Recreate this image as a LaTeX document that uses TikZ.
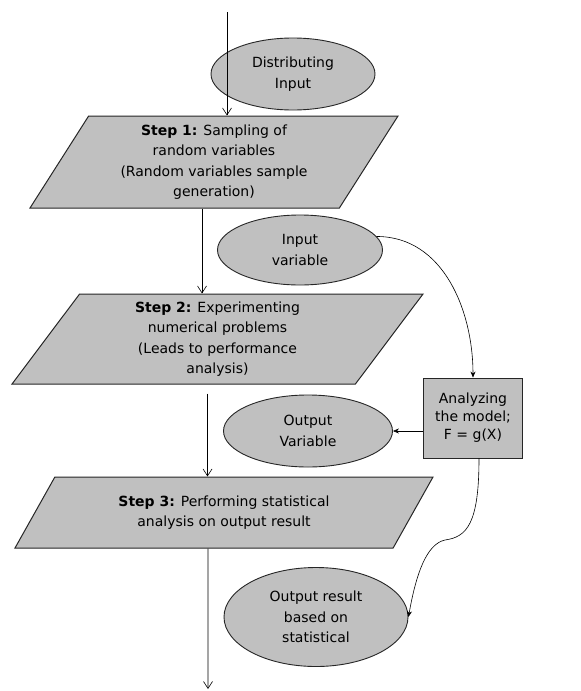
\documentclass[tikz,border=0pt]{standalone}
\usepackage{fontspec}
\setmainfont{DejaVu Sans}
\usetikzlibrary{arrows.meta, shapes.geometric, positioning}
\definecolor{BoxGray}{RGB}{192,192,192}
\tikzset{
	every node/.style={font=\fontsize{14}{20.5}\selectfont, align=center},
	stepbox/.style={trapezium, trapezium stretches body, draw=black!85, fill=BoxGray, line width=1pt, inner sep=0pt},
	databox/.style={ellipse, draw=black!85, fill=BoxGray, line width=0.9pt, inner sep=0pt},
	modelbox/.style={rectangle, draw=black!85, fill=BoxGray, line width=0.9pt, inner sep=0pt, font=\fontsize{14}{18}\selectfont},
	flow/.style={-{Straight Barb[length=7pt,width=9pt]}, line width=0.6pt},
	feed/.style={-{Stealth[length=6pt,width=5pt]}, line width=0.6pt},
}

\begin{document}
\begin{tikzpicture}[x=1pt, y=-1pt]
	\useasboundingbox (0,0) rectangle (581,691);
	% data and model nodes
	\node[databox, minimum width=164, minimum height=72] (distin) at (293,74) {Distributing\\Input};
	\node[databox, minimum width=165, minimum height=70] (invar) at (300,250) {Input\\variable};
	\node[modelbox, minimum width=99, minimum height=80] (model) at (473,418) {Analyzing\\the model;\\F = g(X)};
	\node[databox, minimum width=169, minimum height=72] (outvar) at (308,431) {Output\\Variable};
	\node[databox, minimum width=184, minimum height=99] (outres) at (316,617) {Output result\\based on\\statistical};
	% the three steps
	\node[stepbox, trapezium left angle=52, trapezium right angle=128, minimum width=368, minimum height=92] (step1) at (214,162)
		{\textbf{Step 1:} Sampling of\\random variables\\(Random variables sample\\generation)};
	\node[stepbox, trapezium left angle=48, trapezium right angle=132, minimum width=411, minimum height=90] (step2) at (217.5,339)
		{\textbf{Step 2:} Experimenting\\numerical problems\\(Leads to performance\\analysis)};
	\node[stepbox, trapezium left angle=40.5, trapezium right angle=139.5, minimum width=418, minimum height=71] (step3) at (224,512.5)
		{\textbf{Step 3:} Performing statistical\\analysis on output result};
	\coordinate (start) at (227,12);
	\coordinate (finish) at (208,689);
	\coordinate (kink) at (445,540);
	% main flow
	\draw[flow] (start) -- (start |- step1.north);
	\draw[flow] ([xshift=-12pt]step1.south) -- ([xshift=-12pt]step1.south |- step2.north);
	\draw[flow] ([xshift=-10pt,yshift=-9pt]step2.south) -- ([xshift=-10pt]step2.south |- step3.north);
	\draw[flow] ([xshift=-16pt]step3.south) -- (finish);
	% side flow
	\draw[feed] (invar.10) to[out=0, in=90] (model.north);
	\draw[feed] (model.west |- outvar.east) -- (outvar.east);
	\draw[feed] ([xshift=6pt]model.south) .. controls +(0,65) and +(22,-3) .. (kink)
		.. controls +(-18,4) and +(8,-45) .. (outres.east);
\end{tikzpicture}
\end{document}
